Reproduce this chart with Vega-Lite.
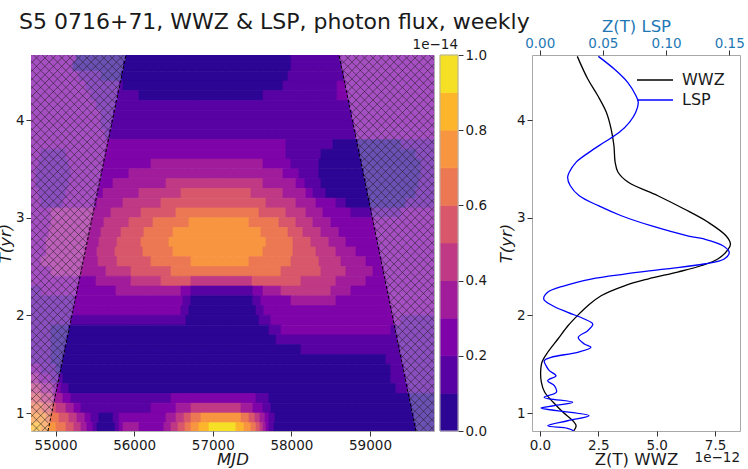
{
"$schema":"https://vega.github.io/schema/vega-lite/v6.json",
"background":"white",
"padding":{"left":-4,"top":10,"right":2,"bottom":0},
"autosize":{"type":"pad"},
"config":{"font":"DejaVu Sans","view":{"stroke":null},
"axis":{"labelFont":"DejaVu Sans","titleFont":"DejaVu Sans","labelFontSize":13.5,"titleFontSize":16.5,"titleFontWeight":"normal","labelColor":"#1a1a1a","titleColor":"#1a1a1a","tickColor":"#333333","tickSize":5,"tickWidth":1,"domain":false,"grid":false,"labelPadding":2,"titlePadding":3,"labelFlush":false},
"axisX":{"titlePadding":0},
"axisY":{"titlePadding":2}},
"datasets":{
"runs":[
{"t0":4.6,"t1":4.7,"a":54688,"b":55260,"z":2,"c":0},{"t0":4.6,"t1":4.7,"a":55260,"b":55892,"z":0,"c":0},{"t0":4.6,"t1":4.7,"a":55892,"b":57995,"z":0,"c":1},{"t0":4.6,"t1":4.7,"a":57995,"b":58609,"z":1,"c":1},{"t0":4.6,"t1":4.7,"a":58609,"b":59814,"z":2,"c":0},
{"t0":4.5,"t1":4.6,"a":54688,"b":55222,"z":2,"c":0},{"t0":4.5,"t1":4.6,"a":55222,"b":55866,"z":0,"c":0},{"t0":4.5,"t1":4.6,"a":55866,"b":57995,"z":0,"c":1},{"t0":4.5,"t1":4.6,"a":57995,"b":58634,"z":1,"c":1},{"t0":4.5,"t1":4.6,"a":58634,"b":59814,"z":2,"c":0},
{"t0":4.4,"t1":4.5,"a":54688,"b":55299,"z":2,"c":0},{"t0":4.4,"t1":4.5,"a":55299,"b":55578,"z":1,"c":0},{"t0":4.4,"t1":4.5,"a":55578,"b":55840,"z":0,"c":0},{"t0":4.4,"t1":4.5,"a":55840,"b":57957,"z":0,"c":1},{"t0":4.4,"t1":4.5,"a":57957,"b":58660,"z":1,"c":1},{"t0":4.4,"t1":4.5,"a":58660,"b":59814,"z":2,"c":0},
{"t0":4.3,"t1":4.4,"a":54688,"b":55388,"z":2,"c":0},{"t0":4.3,"t1":4.4,"a":55388,"b":55815,"z":1,"c":0},{"t0":4.3,"t1":4.4,"a":55815,"b":55858,"z":1,"c":1},{"t0":4.3,"t1":4.4,"a":55858,"b":57893,"z":0,"c":1},{"t0":4.3,"t1":4.4,"a":57893,"b":58580,"z":1,"c":1},{"t0":4.3,"t1":4.4,"a":58580,"b":58685,"z":2,"c":1},{"t0":4.3,"t1":4.4,"a":58685,"b":59814,"z":2,"c":0},
{"t0":4.2,"t1":4.3,"a":54688,"b":55451,"z":2,"c":0},{"t0":4.2,"t1":4.3,"a":55451,"b":55789,"z":1,"c":0},{"t0":4.2,"t1":4.3,"a":55789,"b":56061,"z":1,"c":1},{"t0":4.2,"t1":4.3,"a":56061,"b":57639,"z":0,"c":1},{"t0":4.2,"t1":4.3,"a":57639,"b":58580,"z":1,"c":1},{"t0":4.2,"t1":4.3,"a":58580,"b":58711,"z":2,"c":1},{"t0":4.2,"t1":4.3,"a":58711,"b":59814,"z":2,"c":0},
{"t0":4.1,"t1":4.2,"a":54688,"b":55515,"z":2,"c":0},{"t0":4.1,"t1":4.2,"a":55515,"b":55763,"z":1,"c":0},{"t0":4.1,"t1":4.2,"a":55763,"b":58736,"z":1,"c":1},{"t0":4.1,"t1":4.2,"a":58736,"b":59814,"z":2,"c":0},
{"t0":4.0,"t1":4.1,"a":54688,"b":55578,"z":2,"c":0},{"t0":4.0,"t1":4.1,"a":55578,"b":55737,"z":1,"c":0},{"t0":4.0,"t1":4.1,"a":55737,"b":58762,"z":1,"c":1},{"t0":4.0,"t1":4.1,"a":58762,"b":59814,"z":2,"c":0},
{"t0":3.9,"t1":4.0,"a":54688,"b":55578,"z":2,"c":0},{"t0":3.9,"t1":4.0,"a":55578,"b":55712,"z":1,"c":0},{"t0":3.9,"t1":4.0,"a":55712,"b":58787,"z":1,"c":1},{"t0":3.9,"t1":4.0,"a":58787,"b":59814,"z":2,"c":0},
{"t0":3.8,"t1":3.9,"a":54688,"b":55629,"z":2,"c":0},{"t0":3.8,"t1":3.9,"a":55629,"b":55686,"z":1,"c":0},{"t0":3.8,"t1":3.9,"a":55686,"b":58813,"z":1,"c":1},{"t0":3.8,"t1":3.9,"a":58813,"b":59814,"z":2,"c":0},
{"t0":3.7,"t1":3.8,"a":54688,"b":55660,"z":2,"c":0},{"t0":3.7,"t1":3.8,"a":55660,"b":57931,"z":2,"c":1},{"t0":3.7,"t1":3.8,"a":57931,"b":58529,"z":1,"c":1},{"t0":3.7,"t1":3.8,"a":58529,"b":58838,"z":0,"c":1},{"t0":3.7,"t1":3.8,"a":58838,"b":59394,"z":0,"c":0},{"t0":3.7,"t1":3.8,"a":59394,"b":59814,"z":1,"c":0},
{"t0":3.6,"t1":3.7,"a":54688,"b":54815,"z":2,"c":0},{"t0":3.6,"t1":3.7,"a":54815,"b":55133,"z":1,"c":0},{"t0":3.6,"t1":3.7,"a":55133,"b":55634,"z":2,"c":0},{"t0":3.6,"t1":3.7,"a":55634,"b":57931,"z":2,"c":1},{"t0":3.6,"t1":3.7,"a":57931,"b":58376,"z":1,"c":1},{"t0":3.6,"t1":3.7,"a":58376,"b":58863,"z":0,"c":1},{"t0":3.6,"t1":3.7,"a":58863,"b":59584,"z":0,"c":0},{"t0":3.6,"t1":3.7,"a":59584,"b":59814,"z":1,"c":0},
{"t0":3.5,"t1":3.6,"a":54688,"b":54790,"z":2,"c":0},{"t0":3.5,"t1":3.6,"a":54790,"b":55171,"z":1,"c":0},{"t0":3.5,"t1":3.6,"a":55171,"b":55609,"z":2,"c":0},{"t0":3.5,"t1":3.6,"a":55609,"b":56214,"z":2,"c":1},{"t0":3.5,"t1":3.6,"a":56214,"b":57639,"z":3,"c":1},{"t0":3.5,"t1":3.6,"a":57639,"b":57995,"z":2,"c":1},{"t0":3.5,"t1":3.6,"a":57995,"b":58351,"z":1,"c":1},{"t0":3.5,"t1":3.6,"a":58351,"b":58889,"z":0,"c":1},{"t0":3.5,"t1":3.6,"a":58889,"b":59648,"z":0,"c":0},{"t0":3.5,"t1":3.6,"a":59648,"b":59814,"z":1,"c":0},
{"t0":3.4,"t1":3.5,"a":54688,"b":54752,"z":2,"c":0},{"t0":3.4,"t1":3.5,"a":54752,"b":55197,"z":1,"c":0},{"t0":3.4,"t1":3.5,"a":55197,"b":55583,"z":2,"c":0},{"t0":3.4,"t1":3.5,"a":55583,"b":55934,"z":2,"c":1},{"t0":3.4,"t1":3.5,"a":55934,"b":57893,"z":3,"c":1},{"t0":3.4,"t1":3.5,"a":57893,"b":58096,"z":2,"c":1},{"t0":3.4,"t1":3.5,"a":58096,"b":58351,"z":1,"c":1},{"t0":3.4,"t1":3.5,"a":58351,"b":58914,"z":0,"c":1},{"t0":3.4,"t1":3.5,"a":58914,"b":59648,"z":0,"c":0},{"t0":3.4,"t1":3.5,"a":59648,"b":59814,"z":1,"c":0},
{"t0":3.3,"t1":3.4,"a":54688,"b":54752,"z":2,"c":0},{"t0":3.3,"t1":3.4,"a":54752,"b":55171,"z":1,"c":0},{"t0":3.3,"t1":3.4,"a":55171,"b":55557,"z":2,"c":0},{"t0":3.3,"t1":3.4,"a":55557,"b":55731,"z":2,"c":1},{"t0":3.3,"t1":3.4,"a":55731,"b":56405,"z":3,"c":1},{"t0":3.3,"t1":3.4,"a":56405,"b":57639,"z":4,"c":1},{"t0":3.3,"t1":3.4,"a":57639,"b":58058,"z":3,"c":1},{"t0":3.3,"t1":3.4,"a":58058,"b":58173,"z":2,"c":1},{"t0":3.3,"t1":3.4,"a":58173,"b":58376,"z":1,"c":1},{"t0":3.3,"t1":3.4,"a":58376,"b":58940,"z":0,"c":1},{"t0":3.3,"t1":3.4,"a":58940,"b":59623,"z":0,"c":0},{"t0":3.3,"t1":3.4,"a":59623,"b":59814,"z":1,"c":0},
{"t0":3.2,"t1":3.3,"a":54688,"b":54790,"z":2,"c":0},{"t0":3.2,"t1":3.3,"a":54790,"b":55133,"z":1,"c":0},{"t0":3.2,"t1":3.3,"a":55133,"b":55531,"z":2,"c":0},{"t0":3.2,"t1":3.3,"a":55531,"b":55604,"z":2,"c":1},{"t0":3.2,"t1":3.3,"a":55604,"b":56061,"z":3,"c":1},{"t0":3.2,"t1":3.3,"a":56061,"b":56596,"z":4,"c":1},{"t0":3.2,"t1":3.3,"a":56596,"b":57486,"z":5,"c":1},{"t0":3.2,"t1":3.3,"a":57486,"b":57893,"z":4,"c":1},{"t0":3.2,"t1":3.3,"a":57893,"b":58186,"z":3,"c":1},{"t0":3.2,"t1":3.3,"a":58186,"b":58274,"z":2,"c":1},{"t0":3.2,"t1":3.3,"a":58274,"b":58440,"z":1,"c":1},{"t0":3.2,"t1":3.3,"a":58440,"b":58965,"z":0,"c":1},{"t0":3.2,"t1":3.3,"a":58965,"b":59584,"z":0,"c":0},{"t0":3.2,"t1":3.3,"a":59584,"b":59814,"z":1,"c":0},
{"t0":3.1,"t1":3.2,"a":54688,"b":54815,"z":2,"c":0},{"t0":3.1,"t1":3.2,"a":54815,"b":55095,"z":1,"c":0},{"t0":3.1,"t1":3.2,"a":55095,"b":55505,"z":2,"c":0},{"t0":3.1,"t1":3.2,"a":55505,"b":55527,"z":2,"c":1},{"t0":3.1,"t1":3.2,"a":55527,"b":55858,"z":3,"c":1},{"t0":3.1,"t1":3.2,"a":55858,"b":56341,"z":4,"c":1},{"t0":3.1,"t1":3.2,"a":56341,"b":57677,"z":5,"c":1},{"t0":3.1,"t1":3.2,"a":57677,"b":58058,"z":4,"c":1},{"t0":3.1,"t1":3.2,"a":58058,"b":58313,"z":3,"c":1},{"t0":3.1,"t1":3.2,"a":58313,"b":58567,"z":2,"c":1},{"t0":3.1,"t1":3.2,"a":58567,"b":58694,"z":1,"c":1},{"t0":3.1,"t1":3.2,"a":58694,"b":58991,"z":0,"c":1},{"t0":3.1,"t1":3.2,"a":58991,"b":59457,"z":0,"c":0},{"t0":3.1,"t1":3.2,"a":59457,"b":59814,"z":1,"c":0},
{"t0":3.0,"t1":3.1,"a":54688,"b":54942,"z":2,"c":0},{"t0":3.0,"t1":3.1,"a":54942,"b":55480,"z":3,"c":0},{"t0":3.0,"t1":3.1,"a":55480,"b":55705,"z":3,"c":1},{"t0":3.0,"t1":3.1,"a":55705,"b":56087,"z":4,"c":1},{"t0":3.0,"t1":3.1,"a":56087,"b":56532,"z":5,"c":1},{"t0":3.0,"t1":3.1,"a":56532,"b":57588,"z":6,"c":1},{"t0":3.0,"t1":3.1,"a":57588,"b":57931,"z":5,"c":1},{"t0":3.0,"t1":3.1,"a":57931,"b":58186,"z":4,"c":1},{"t0":3.0,"t1":3.1,"a":58186,"b":58402,"z":3,"c":1},{"t0":3.0,"t1":3.1,"a":58402,"b":58758,"z":2,"c":1},{"t0":3.0,"t1":3.1,"a":58758,"b":59016,"z":1,"c":1},{"t0":3.0,"t1":3.1,"a":59016,"b":59394,"z":1,"c":0},{"t0":3.0,"t1":3.1,"a":59394,"b":59814,"z":2,"c":0},
{"t0":2.9,"t1":3.0,"a":54688,"b":54942,"z":2,"c":0},{"t0":2.9,"t1":3.0,"a":54942,"b":55454,"z":3,"c":0},{"t0":2.9,"t1":3.0,"a":55454,"b":55616,"z":3,"c":1},{"t0":2.9,"t1":3.0,"a":55616,"b":55934,"z":4,"c":1},{"t0":2.9,"t1":3.0,"a":55934,"b":56240,"z":5,"c":1},{"t0":2.9,"t1":3.0,"a":56240,"b":56697,"z":6,"c":1},{"t0":2.9,"t1":3.0,"a":56697,"b":57461,"z":7,"c":1},{"t0":2.9,"t1":3.0,"a":57461,"b":57842,"z":6,"c":1},{"t0":2.9,"t1":3.0,"a":57842,"b":58058,"z":5,"c":1},{"t0":2.9,"t1":3.0,"a":58058,"b":58274,"z":4,"c":1},{"t0":2.9,"t1":3.0,"a":58274,"b":58503,"z":3,"c":1},{"t0":2.9,"t1":3.0,"a":58503,"b":59041,"z":2,"c":1},{"t0":2.9,"t1":3.0,"a":59041,"b":59814,"z":2,"c":0},
{"t0":2.8,"t1":2.9,"a":54688,"b":54917,"z":2,"c":0},{"t0":2.8,"t1":2.9,"a":54917,"b":55428,"z":3,"c":0},{"t0":2.8,"t1":2.9,"a":55428,"b":55578,"z":3,"c":1},{"t0":2.8,"t1":2.9,"a":55578,"b":55833,"z":4,"c":1},{"t0":2.8,"t1":2.9,"a":55833,"b":56125,"z":5,"c":1},{"t0":2.8,"t1":2.9,"a":56125,"b":56494,"z":6,"c":1},{"t0":2.8,"t1":2.9,"a":56494,"b":57613,"z":7,"c":1},{"t0":2.8,"t1":2.9,"a":57613,"b":57957,"z":6,"c":1},{"t0":2.8,"t1":2.9,"a":57957,"b":58147,"z":5,"c":1},{"t0":2.8,"t1":2.9,"a":58147,"b":58376,"z":4,"c":1},{"t0":2.8,"t1":2.9,"a":58376,"b":58605,"z":3,"c":1},{"t0":2.8,"t1":2.9,"a":58605,"b":59067,"z":2,"c":1},{"t0":2.8,"t1":2.9,"a":59067,"b":59814,"z":2,"c":0},
{"t0":2.7,"t1":2.8,"a":54688,"b":54879,"z":2,"c":0},{"t0":2.7,"t1":2.8,"a":54879,"b":55402,"z":3,"c":0},{"t0":2.7,"t1":2.8,"a":55402,"b":55553,"z":3,"c":1},{"t0":2.7,"t1":2.8,"a":55553,"b":55782,"z":4,"c":1},{"t0":2.7,"t1":2.8,"a":55782,"b":56087,"z":5,"c":1},{"t0":2.7,"t1":2.8,"a":56087,"b":56443,"z":6,"c":1},{"t0":2.7,"t1":2.8,"a":56443,"b":57677,"z":7,"c":1},{"t0":2.7,"t1":2.8,"a":57677,"b":58020,"z":6,"c":1},{"t0":2.7,"t1":2.8,"a":58020,"b":58249,"z":5,"c":1},{"t0":2.7,"t1":2.8,"a":58249,"b":58478,"z":4,"c":1},{"t0":2.7,"t1":2.8,"a":58478,"b":58694,"z":3,"c":1},{"t0":2.7,"t1":2.8,"a":58694,"b":59092,"z":2,"c":1},{"t0":2.7,"t1":2.8,"a":59092,"b":59814,"z":2,"c":0},
{"t0":2.6,"t1":2.7,"a":54688,"b":54879,"z":2,"c":0},{"t0":2.6,"t1":2.7,"a":54879,"b":55377,"z":3,"c":0},{"t0":2.6,"t1":2.7,"a":55377,"b":55527,"z":3,"c":1},{"t0":2.6,"t1":2.7,"a":55527,"b":55756,"z":4,"c":1},{"t0":2.6,"t1":2.7,"a":55756,"b":56112,"z":5,"c":1},{"t0":2.6,"t1":2.7,"a":56112,"b":56494,"z":6,"c":1},{"t0":2.6,"t1":2.7,"a":56494,"b":57639,"z":7,"c":1},{"t0":2.6,"t1":2.7,"a":57639,"b":58020,"z":6,"c":1},{"t0":2.6,"t1":2.7,"a":58020,"b":58313,"z":5,"c":1},{"t0":2.6,"t1":2.7,"a":58313,"b":58567,"z":4,"c":1},{"t0":2.6,"t1":2.7,"a":58567,"b":58822,"z":3,"c":1},{"t0":2.6,"t1":2.7,"a":58822,"b":59118,"z":2,"c":1},{"t0":2.6,"t1":2.7,"a":59118,"b":59814,"z":2,"c":0},
{"t0":2.5,"t1":2.6,"a":54688,"b":54815,"z":2,"c":0},{"t0":2.5,"t1":2.6,"a":54815,"b":55351,"z":3,"c":0},{"t0":2.5,"t1":2.6,"a":55351,"b":55540,"z":3,"c":1},{"t0":2.5,"t1":2.6,"a":55540,"b":55782,"z":4,"c":1},{"t0":2.5,"t1":2.6,"a":55782,"b":56214,"z":5,"c":1},{"t0":2.5,"t1":2.6,"a":56214,"b":56723,"z":6,"c":1},{"t0":2.5,"t1":2.6,"a":56723,"b":57461,"z":7,"c":1},{"t0":2.5,"t1":2.6,"a":57461,"b":57995,"z":6,"c":1},{"t0":2.5,"t1":2.6,"a":57995,"b":58351,"z":5,"c":1},{"t0":2.5,"t1":2.6,"a":58351,"b":58631,"z":4,"c":1},{"t0":2.5,"t1":2.6,"a":58631,"b":58949,"z":3,"c":1},{"t0":2.5,"t1":2.6,"a":58949,"b":59143,"z":2,"c":1},{"t0":2.5,"t1":2.6,"a":59143,"b":59814,"z":2,"c":0},
{"t0":2.4,"t1":2.5,"a":54688,"b":54942,"z":2,"c":0},{"t0":2.4,"t1":2.5,"a":54942,"b":55325,"z":3,"c":0},{"t0":2.4,"t1":2.5,"a":55325,"b":55642,"z":3,"c":1},{"t0":2.4,"t1":2.5,"a":55642,"b":55960,"z":4,"c":1},{"t0":2.4,"t1":2.5,"a":55960,"b":56469,"z":5,"c":1},{"t0":2.4,"t1":2.5,"a":56469,"b":57868,"z":6,"c":1},{"t0":2.4,"t1":2.5,"a":57868,"b":58376,"z":5,"c":1},{"t0":2.4,"t1":2.5,"a":58376,"b":58694,"z":4,"c":1},{"t0":2.4,"t1":2.5,"a":58694,"b":59038,"z":3,"c":1},{"t0":2.4,"t1":2.5,"a":59038,"b":59169,"z":2,"c":1},{"t0":2.4,"t1":2.5,"a":59169,"b":59814,"z":2,"c":0},
{"t0":2.3,"t1":2.4,"a":54688,"b":55299,"z":2,"c":0},{"t0":2.3,"t1":2.4,"a":55299,"b":55515,"z":2,"c":1},{"t0":2.3,"t1":2.4,"a":55515,"b":55960,"z":3,"c":1},{"t0":2.3,"t1":2.4,"a":55960,"b":56341,"z":4,"c":1},{"t0":2.3,"t1":2.4,"a":56341,"b":56723,"z":5,"c":1},{"t0":2.3,"t1":2.4,"a":56723,"b":57500,"z":4,"c":1},{"t0":2.3,"t1":2.4,"a":57500,"b":58122,"z":5,"c":1},{"t0":2.3,"t1":2.4,"a":58122,"b":58567,"z":4,"c":1},{"t0":2.3,"t1":2.4,"a":58567,"b":58949,"z":3,"c":1},{"t0":2.3,"t1":2.4,"a":58949,"b":59194,"z":2,"c":1},{"t0":2.3,"t1":2.4,"a":59194,"b":59814,"z":2,"c":0},
{"t0":2.2,"t1":2.3,"a":54688,"b":54815,"z":1,"c":0},{"t0":2.2,"t1":2.3,"a":54815,"b":55273,"z":2,"c":0},{"t0":2.2,"t1":2.3,"a":55273,"b":55769,"z":2,"c":1},{"t0":2.2,"t1":2.3,"a":55769,"b":56596,"z":3,"c":1},{"t0":2.2,"t1":2.3,"a":56596,"b":56723,"z":2,"c":1},{"t0":2.2,"t1":2.3,"a":56723,"b":57511,"z":1,"c":1},{"t0":2.2,"t1":2.3,"a":57511,"b":57639,"z":2,"c":1},{"t0":2.2,"t1":2.3,"a":57639,"b":57868,"z":3,"c":1},{"t0":2.2,"t1":2.3,"a":57868,"b":58503,"z":4,"c":1},{"t0":2.2,"t1":2.3,"a":58503,"b":58758,"z":3,"c":1},{"t0":2.2,"t1":2.3,"a":58758,"b":59219,"z":2,"c":1},{"t0":2.2,"t1":2.3,"a":59219,"b":59814,"z":2,"c":0},
{"t0":2.1,"t1":2.2,"a":54688,"b":55248,"z":1,"c":0},{"t0":2.1,"t1":2.2,"a":55248,"b":56621,"z":2,"c":1},{"t0":2.1,"t1":2.2,"a":56621,"b":56723,"z":1,"c":1},{"t0":2.1,"t1":2.2,"a":56723,"b":57511,"z":0,"c":1},{"t0":2.1,"t1":2.2,"a":57511,"b":57613,"z":1,"c":1},{"t0":2.1,"t1":2.2,"a":57613,"b":57995,"z":2,"c":1},{"t0":2.1,"t1":2.2,"a":57995,"b":58567,"z":3,"c":1},{"t0":2.1,"t1":2.2,"a":58567,"b":59245,"z":2,"c":1},{"t0":2.1,"t1":2.2,"a":59245,"b":59814,"z":2,"c":0},
{"t0":2.0,"t1":2.1,"a":54688,"b":55222,"z":1,"c":0},{"t0":2.0,"t1":2.1,"a":55222,"b":56596,"z":2,"c":1},{"t0":2.0,"t1":2.1,"a":56596,"b":56697,"z":1,"c":1},{"t0":2.0,"t1":2.1,"a":56697,"b":57550,"z":0,"c":1},{"t0":2.0,"t1":2.1,"a":57550,"b":57651,"z":1,"c":1},{"t0":2.0,"t1":2.1,"a":57651,"b":59270,"z":2,"c":1},{"t0":2.0,"t1":2.1,"a":59270,"b":59814,"z":2,"c":0},
{"t0":1.9,"t1":2.0,"a":54688,"b":55196,"z":1,"c":0},{"t0":1.9,"t1":2.0,"a":55196,"b":56659,"z":1,"c":1},{"t0":1.9,"t1":2.0,"a":56659,"b":57588,"z":0,"c":1},{"t0":1.9,"t1":2.0,"a":57588,"b":57740,"z":1,"c":1},{"t0":1.9,"t1":2.0,"a":57740,"b":59296,"z":2,"c":1},{"t0":1.9,"t1":2.0,"a":59296,"b":59394,"z":2,"c":0},{"t0":1.9,"t1":2.0,"a":59394,"b":59814,"z":1,"c":0},
{"t0":1.8,"t1":1.9,"a":54688,"b":54942,"z":1,"c":0},{"t0":1.8,"t1":1.9,"a":54942,"b":55170,"z":0,"c":0},{"t0":1.8,"t1":1.9,"a":55170,"b":57715,"z":0,"c":1},{"t0":1.8,"t1":1.9,"a":57715,"b":57868,"z":1,"c":1},{"t0":1.8,"t1":1.9,"a":57868,"b":59266,"z":2,"c":1},{"t0":1.8,"t1":1.9,"a":59266,"b":59321,"z":1,"c":1},{"t0":1.8,"t1":1.9,"a":59321,"b":59814,"z":1,"c":0},
{"t0":1.7,"t1":1.8,"a":54688,"b":54942,"z":1,"c":0},{"t0":1.7,"t1":1.8,"a":54942,"b":55145,"z":0,"c":0},{"t0":1.7,"t1":1.8,"a":55145,"b":57804,"z":0,"c":1},{"t0":1.7,"t1":1.8,"a":57804,"b":59346,"z":1,"c":1},{"t0":1.7,"t1":1.8,"a":59346,"b":59814,"z":1,"c":0},
{"t0":1.6,"t1":1.7,"a":54688,"b":54942,"z":1,"c":0},{"t0":1.6,"t1":1.7,"a":54942,"b":55119,"z":0,"c":0},{"t0":1.6,"t1":1.7,"a":55119,"b":58122,"z":0,"c":1},{"t0":1.6,"t1":1.7,"a":58122,"b":59372,"z":1,"c":1},{"t0":1.6,"t1":1.7,"a":59372,"b":59814,"z":1,"c":0},
{"t0":1.5,"t1":1.6,"a":54688,"b":54942,"z":1,"c":0},{"t0":1.5,"t1":1.6,"a":54942,"b":55093,"z":0,"c":0},{"t0":1.5,"t1":1.6,"a":55093,"b":59203,"z":0,"c":1},{"t0":1.5,"t1":1.6,"a":59203,"b":59397,"z":1,"c":1},{"t0":1.5,"t1":1.6,"a":59397,"b":59814,"z":1,"c":0},
{"t0":1.4,"t1":1.5,"a":54688,"b":54815,"z":2,"c":0},{"t0":1.4,"t1":1.5,"a":54815,"b":55006,"z":1,"c":0},{"t0":1.4,"t1":1.5,"a":55006,"b":55067,"z":0,"c":0},{"t0":1.4,"t1":1.5,"a":55067,"b":59266,"z":0,"c":1},{"t0":1.4,"t1":1.5,"a":59266,"b":59423,"z":1,"c":1},{"t0":1.4,"t1":1.5,"a":59423,"b":59814,"z":1,"c":0},
{"t0":1.3,"t1":1.4,"a":54688,"b":54790,"z":3,"c":0},{"t0":1.3,"t1":1.4,"a":54790,"b":54942,"z":2,"c":0},{"t0":1.3,"t1":1.4,"a":54942,"b":55041,"z":1,"c":0},{"t0":1.3,"t1":1.4,"a":55041,"b":55095,"z":1,"c":1},{"t0":1.3,"t1":1.4,"a":55095,"b":59266,"z":0,"c":1},{"t0":1.3,"t1":1.4,"a":59266,"b":59448,"z":1,"c":1},{"t0":1.3,"t1":1.4,"a":59448,"b":59814,"z":1,"c":0},
{"t0":1.2,"t1":1.3,"a":54688,"b":54815,"z":4,"c":0},{"t0":1.2,"t1":1.3,"a":54815,"b":54968,"z":3,"c":0},{"t0":1.2,"t1":1.3,"a":54968,"b":55016,"z":2,"c":0},{"t0":1.2,"t1":1.3,"a":55016,"b":55070,"z":2,"c":1},{"t0":1.2,"t1":1.3,"a":55070,"b":55171,"z":1,"c":1},{"t0":1.2,"t1":1.3,"a":55171,"b":59330,"z":0,"c":1},{"t0":1.2,"t1":1.3,"a":59330,"b":59474,"z":1,"c":1},{"t0":1.2,"t1":1.3,"a":59474,"b":59814,"z":1,"c":0},
{"t0":1.1,"t1":1.2,"a":54688,"b":54815,"z":5,"c":0},{"t0":1.1,"t1":1.2,"a":54815,"b":54968,"z":4,"c":0},{"t0":1.1,"t1":1.2,"a":54968,"b":54990,"z":3,"c":0},{"t0":1.1,"t1":1.2,"a":54990,"b":55095,"z":3,"c":1},{"t0":1.1,"t1":1.2,"a":55095,"b":55197,"z":2,"c":1},{"t0":1.1,"t1":1.2,"a":55197,"b":56469,"z":1,"c":1},{"t0":1.1,"t1":1.2,"a":56469,"b":57550,"z":2,"c":1},{"t0":1.1,"t1":1.2,"a":57550,"b":57715,"z":1,"c":1},{"t0":1.1,"t1":1.2,"a":57715,"b":59499,"z":0,"c":1},{"t0":1.1,"t1":1.2,"a":59499,"b":59814,"z":0,"c":0},
{"t0":1.0,"t1":1.1,"a":54688,"b":54841,"z":6,"c":0},{"t0":1.0,"t1":1.1,"a":54841,"b":54964,"z":5,"c":0},{"t0":1.0,"t1":1.1,"a":54964,"b":55006,"z":5,"c":1},{"t0":1.0,"t1":1.1,"a":55006,"b":55133,"z":4,"c":1},{"t0":1.0,"t1":1.1,"a":55133,"b":55235,"z":3,"c":1},{"t0":1.0,"t1":1.1,"a":55235,"b":55324,"z":2,"c":1},{"t0":1.0,"t1":1.1,"a":55324,"b":56214,"z":1,"c":1},{"t0":1.0,"t1":1.1,"a":56214,"b":56532,"z":2,"c":1},{"t0":1.0,"t1":1.1,"a":56532,"b":56723,"z":3,"c":1},{"t0":1.0,"t1":1.1,"a":56723,"b":57359,"z":4,"c":1},{"t0":1.0,"t1":1.1,"a":57359,"b":57511,"z":3,"c":1},{"t0":1.0,"t1":1.1,"a":57511,"b":57639,"z":2,"c":1},{"t0":1.0,"t1":1.1,"a":57639,"b":57740,"z":1,"c":1},{"t0":1.0,"t1":1.1,"a":57740,"b":59524,"z":0,"c":1},{"t0":1.0,"t1":1.1,"a":59524,"b":59814,"z":0,"c":0},
{"t0":0.9,"t1":1.0,"a":54688,"b":54879,"z":7,"c":0},{"t0":0.9,"t1":1.0,"a":54879,"b":54938,"z":6,"c":0},{"t0":0.9,"t1":1.0,"a":54938,"b":55044,"z":6,"c":1},{"t0":0.9,"t1":1.0,"a":55044,"b":55171,"z":5,"c":1},{"t0":0.9,"t1":1.0,"a":55171,"b":55273,"z":4,"c":1},{"t0":0.9,"t1":1.0,"a":55273,"b":55375,"z":3,"c":1},{"t0":0.9,"t1":1.0,"a":55375,"b":55451,"z":2,"c":1},{"t0":0.9,"t1":1.0,"a":55451,"b":55553,"z":1,"c":1},{"t0":0.9,"t1":1.0,"a":55553,"b":55731,"z":0,"c":1},{"t0":0.9,"t1":1.0,"a":55731,"b":55807,"z":1,"c":1},{"t0":0.9,"t1":1.0,"a":55807,"b":56405,"z":2,"c":1},{"t0":0.9,"t1":1.0,"a":56405,"b":56532,"z":3,"c":1},{"t0":0.9,"t1":1.0,"a":56532,"b":56634,"z":4,"c":1},{"t0":0.9,"t1":1.0,"a":56634,"b":56723,"z":5,"c":1},{"t0":0.9,"t1":1.0,"a":56723,"b":56850,"z":6,"c":1},{"t0":0.9,"t1":1.0,"a":56850,"b":57359,"z":7,"c":1},{"t0":0.9,"t1":1.0,"a":57359,"b":57461,"z":6,"c":1},{"t0":0.9,"t1":1.0,"a":57461,"b":57537,"z":5,"c":1},{"t0":0.9,"t1":1.0,"a":57537,"b":57600,"z":4,"c":1},{"t0":0.9,"t1":1.0,"a":57600,"b":57664,"z":3,"c":1},{"t0":0.9,"t1":1.0,"a":57664,"b":57715,"z":2,"c":1},{"t0":0.9,"t1":1.0,"a":57715,"b":57791,"z":1,"c":1},{"t0":0.9,"t1":1.0,"a":57791,"b":59550,"z":0,"c":1},{"t0":0.9,"t1":1.0,"a":59550,"b":59814,"z":0,"c":0},
{"t0":0.8,"t1":0.9,"a":54688,"b":54815,"z":8,"c":0},{"t0":0.8,"t1":0.9,"a":54815,"b":54913,"z":7,"c":0},{"t0":0.8,"t1":0.9,"a":54913,"b":55006,"z":7,"c":1},{"t0":0.8,"t1":0.9,"a":55006,"b":55133,"z":6,"c":1},{"t0":0.8,"t1":0.9,"a":55133,"b":55235,"z":5,"c":1},{"t0":0.8,"t1":0.9,"a":55235,"b":55324,"z":4,"c":1},{"t0":0.8,"t1":0.9,"a":55324,"b":55400,"z":3,"c":1},{"t0":0.8,"t1":0.9,"a":55400,"b":55477,"z":2,"c":1},{"t0":0.8,"t1":0.9,"a":55477,"b":55527,"z":1,"c":1},{"t0":0.8,"t1":0.9,"a":55527,"b":55756,"z":0,"c":1},{"t0":0.8,"t1":0.9,"a":55756,"b":55807,"z":1,"c":1},{"t0":0.8,"t1":0.9,"a":55807,"b":55858,"z":2,"c":1},{"t0":0.8,"t1":0.9,"a":55858,"b":56061,"z":3,"c":1},{"t0":0.8,"t1":0.9,"a":56061,"b":56379,"z":2,"c":1},{"t0":0.8,"t1":0.9,"a":56379,"b":56469,"z":3,"c":1},{"t0":0.8,"t1":0.9,"a":56469,"b":56558,"z":4,"c":1},{"t0":0.8,"t1":0.9,"a":56558,"b":56647,"z":5,"c":1},{"t0":0.8,"t1":0.9,"a":56647,"b":56723,"z":6,"c":1},{"t0":0.8,"t1":0.9,"a":56723,"b":56825,"z":7,"c":1},{"t0":0.8,"t1":0.9,"a":56825,"b":56952,"z":8,"c":1},{"t0":0.8,"t1":0.9,"a":56952,"b":57294,"z":9,"c":1},{"t0":0.8,"t1":0.9,"a":57294,"b":57397,"z":8,"c":1},{"t0":0.8,"t1":0.9,"a":57397,"b":57486,"z":7,"c":1},{"t0":0.8,"t1":0.9,"a":57486,"b":57550,"z":6,"c":1},{"t0":0.8,"t1":0.9,"a":57550,"b":57600,"z":5,"c":1},{"t0":0.8,"t1":0.9,"a":57600,"b":57639,"z":4,"c":1},{"t0":0.8,"t1":0.9,"a":57639,"b":57677,"z":3,"c":1},{"t0":0.8,"t1":0.9,"a":57677,"b":57715,"z":2,"c":1},{"t0":0.8,"t1":0.9,"a":57715,"b":57778,"z":1,"c":1},{"t0":0.8,"t1":0.9,"a":57778,"b":59575,"z":0,"c":1},{"t0":0.8,"t1":0.9,"a":59575,"b":59814,"z":0,"c":0}
],
"hatch":[
{"p":49906,"q":54688},{"p":50013,"q":54795},{"p":50120,"q":54902},{"p":50227,"q":55009},{"p":50334,"q":55116},{"p":50441,"q":55223},{"p":50548,"q":55330},{"p":50655,"q":55437},{"p":50762,"q":55544},{"p":50869,"q":55651},
{"p":50976,"q":55758},{"p":51083,"q":55865},{"p":51190,"q":55972},{"p":51297,"q":56079},{"p":51404,"q":56186},{"p":51511,"q":56293},{"p":51618,"q":56400},{"p":51725,"q":56507},{"p":51832,"q":56614},{"p":51939,"q":56721},
{"p":52046,"q":56828},{"p":52153,"q":56935},{"p":52260,"q":57042},{"p":52367,"q":57149},{"p":52474,"q":57256},{"p":52581,"q":57363},{"p":52688,"q":57470},{"p":52795,"q":57577},{"p":52902,"q":57684},{"p":53009,"q":57791},
{"p":53116,"q":57898},{"p":53223,"q":58005},{"p":53330,"q":58112},{"p":53437,"q":58219},{"p":53544,"q":58326},{"p":53651,"q":58433},{"p":53758,"q":58540},{"p":53865,"q":58647},{"p":53972,"q":58754},{"p":54079,"q":58861},
{"p":54186,"q":58968},{"p":54293,"q":59075},{"p":54400,"q":59182},{"p":54507,"q":59289},{"p":54614,"q":59396},{"p":54721,"q":59503},{"p":54828,"q":59610},{"p":54935,"q":59717},{"p":55042,"q":59824},{"p":55149,"q":59931},
{"p":55256,"q":60038},{"p":55363,"q":60145},{"p":55470,"q":60252},{"p":55577,"q":60359},{"p":55684,"q":60466},{"p":55791,"q":60573},{"p":55898,"q":60680},{"p":56005,"q":60787},{"p":56112,"q":60894},{"p":56219,"q":61001},
{"p":56326,"q":61108},{"p":56433,"q":61215},{"p":56540,"q":61322},{"p":56647,"q":61429},{"p":56754,"q":61536},{"p":56861,"q":61643},{"p":56968,"q":61750},{"p":57075,"q":61857},{"p":57182,"q":61964},{"p":57289,"q":62071},
{"p":57396,"q":62178},{"p":57503,"q":62285},{"p":57610,"q":62392},{"p":57717,"q":62499},{"p":57824,"q":62606},{"p":57931,"q":62713},{"p":58038,"q":62820},{"p":58145,"q":62927},{"p":58252,"q":63034},{"p":58359,"q":63141},
{"p":58466,"q":63248},{"p":58573,"q":63355},{"p":58680,"q":63462},{"p":58787,"q":63569},{"p":58894,"q":63676},{"p":59001,"q":63783},{"p":59108,"q":63890},{"p":59215,"q":63997},{"p":59322,"q":64104},{"p":59429,"q":64211},
{"p":59536,"q":64318},{"p":59643,"q":64425},{"p":59750,"q":64532}
],
"wwz":[
{"t":4.652,"z":1.60},{"t":4.42,"z":2.05},{"t":4.249,"z":2.48},{"t":4.082,"z":2.84},{"t":3.908,"z":3.05},{"t":3.737,"z":3.17},{"t":3.57,"z":3.22},{"t":3.468,"z":3.34},{"t":3.365,"z":3.77},{"t":3.225,"z":5.05},{"t":3.089,"z":6.18},{"t":2.956,"z":7.19},{"t":2.815,"z":7.97},{"t":2.73,"z":8.16},{"t":2.679,"z":8.07},{"t":2.577,"z":7.62},{"t":2.508,"z":6.9},{"t":2.444,"z":5.9},{"t":2.372,"z":4.62},{"t":2.303,"z":3.62},{"t":2.201,"z":2.62},{"t":2.099,"z":2.05},{"t":1.996,"z":1.6},{"t":1.894,"z":1.2},{"t":1.758,"z":0.77},{"t":1.625,"z":0.34},{"t":1.523,"z":0.09},{"t":1.42,"z":0.03},{"t":1.317,"z":0.06},{"t":1.215,"z":0.2},{"t":1.113,"z":0.56},{"t":1.01,"z":0.98},{"t":0.921,"z":1.41},{"t":0.869,"z":1.55},{"t":0.818,"z":1.45}
],
"lsp":[
{"t":4.652,"p":0.0464},{"t":4.522,"p":0.059},{"t":4.386,"p":0.0696},{"t":4.249,"p":0.0762},{"t":4.181,"p":0.078},{"t":4.079,"p":0.076},{"t":3.976,"p":0.071},{"t":3.874,"p":0.063},{"t":3.772,"p":0.051},{"t":3.669,"p":0.039},{"t":3.567,"p":0.0287},{"t":3.465,"p":0.0234},{"t":3.413,"p":0.0221},{"t":3.327,"p":0.0242},{"t":3.225,"p":0.0313},{"t":3.123,"p":0.0464},{"t":3.02,"p":0.0646},{"t":2.918,"p":0.088},{"t":2.815,"p":0.117},{"t":2.782,"p":0.13},{"t":2.713,"p":0.145},{"t":2.645,"p":0.15},{"t":2.577,"p":0.146},{"t":2.526,"p":0.13},{"t":2.474,"p":0.0986},{"t":2.423,"p":0.067},{"t":2.372,"p":0.0406},{"t":2.303,"p":0.0195},{"t":2.236,"p":0.0063},{"t":2.167,"p":0.0032},{"t":2.099,"p":0.0103},{"t":2.031,"p":0.0222},{"t":1.963,"p":0.0353},{"t":1.911,"p":0.042},{"t":1.843,"p":0.038},{"t":1.775,"p":0.0305},{"t":1.707,"p":0.0353},{"t":1.673,"p":0.0406},{"t":1.622,"p":0.03},{"t":1.57,"p":0.0089},{"t":1.536,"p":0.0036},{"t":1.485,"p":0.005},{"t":1.434,"p":0.0076},{"t":1.382,"p":0.0129},{"t":1.331,"p":0.0063},{"t":1.28,"p":0.0116},{"t":1.212,"p":0.0132},{"t":1.161,"p":0.0036},{"t":1.11,"p":0.0261},{"t":1.075,"p":0.0116},{"t":1.051,"p":0.001},{"t":1.024,"p":0.0132},{"t":0.972,"p":0.039},{"t":0.921,"p":0.022},{"t":0.869,"p":0.0063},{"t":0.843,"p":0.022},{"t":0.818,"p":0.027}
]
},
"bounds":"flush",
"spacing":6,
"resolve":{"scale":{"fill":"independent","stroke":"independent"},"legend":{"fill":"independent","stroke":"independent"}},
"hconcat":[
{"width":403,"height":376,
"view":{"stroke":"#b0b0b0"},
"title":{"text":"S5 0716+71, WWZ & LSP, photon flux, weekly","anchor":"start","frame":"group","fontSize":22,"fontWeight":"normal","font":"DejaVu Sans","color":"#1a1a1a","baseline":"alphabetic","offset":4,"dx":-12},
"layer":[
{"data":{"name":"runs"},"transform":[{"filter":"datum.c == 0"}],"mark":{"type":"rect","clip":true,"strokeWidth":0.7},
"encoding":{
"x":{"field":"a","type":"quantitative","title":"MJD","scale":{"domain":[54688,59814],"nice":false,"zero":false},"axis":{"values":[55000,56000,57000,58000,59000],"format":"d","titleFontStyle":"italic"}},
"x2":{"field":"b"},
"y":{"field":"t0","type":"quantitative","title":"T(yr)","scale":{"domain":[0.816,4.666],"nice":false,"zero":false},"axis":{"values":[1,2,3,4],"format":"d","titleFontStyle":"italic"}},
"y2":{"field":"t1"},
"fill":{"field":"z","type":"ordinal","scale":{"domain":[0,1,2,3,4,5,6,7,8,9],"range":["#2c0594","#5802a4","#7e03a8","#a11c9b","#bf3984","#d8576b","#ec7853","#f89540","#fdb62c","#f5e026"]},"legend":null},
"stroke":{"field":"z","type":"ordinal","scale":{"domain":[0,1,2,3,4,5,6,7,8,9],"range":["#2c0594","#5802a4","#7e03a8","#a11c9b","#bf3984","#d8576b","#ec7853","#f89540","#fdb62c","#f5e026"]},"legend":null}}},
{"data":{"values":[{}]},"mark":{"type":"rect","color":"white","opacity":0.3},
"encoding":{"x":{"datum":54688,"type":"quantitative"},"x2":{"datum":59814},"y":{"datum":0.816,"type":"quantitative"},"y2":{"datum":4.666}}},
{"data":{"name":"hatch"},"mark":{"type":"rule","clip":true,"color":"#1a1a1a","strokeWidth":0.7,"opacity":0.75},
"encoding":{"x":{"field":"p","type":"quantitative","title":"MJD"},"x2":{"field":"q"},"y":{"datum":0.816,"type":"quantitative"},"y2":{"datum":4.666}}},
{"data":{"name":"hatch"},"mark":{"type":"rule","clip":true,"color":"#1a1a1a","strokeWidth":0.7,"opacity":0.75},
"encoding":{"x":{"field":"q","type":"quantitative","title":"MJD"},"x2":{"field":"p"},"y":{"datum":0.816,"type":"quantitative"},"y2":{"datum":4.666}}},
{"data":{"name":"runs"},"transform":[{"filter":"datum.c == 1"}],"mark":{"type":"rect","clip":true,"strokeWidth":0.7},
"encoding":{
"x":{"field":"a","type":"quantitative","title":"MJD"},
"x2":{"field":"b"},
"y":{"field":"t0","type":"quantitative","title":"T(yr)"},
"y2":{"field":"t1"},
"fill":{"field":"z","type":"ordinal","legend":null},
"stroke":{"field":"z","type":"ordinal","legend":null}}},
{"data":{"values":[{"a":54904,"b":55896},{"a":59584,"b":58605}]},"mark":{"type":"rule","color":"black","strokeWidth":1,"strokeDash":[3,2]},
"encoding":{"x":{"field":"a","type":"quantitative","title":"MJD"},"x2":{"field":"b"},"y":{"datum":0.816,"type":"quantitative"},"y2":{"datum":4.666}}}
]},
{"width":86,"height":376,
"layer":[
{"data":{"values":[{"lo":0,"hi":0.1,"z":0},{"lo":0.1,"hi":0.2,"z":1},{"lo":0.2,"hi":0.3,"z":2},{"lo":0.3,"hi":0.4,"z":3},{"lo":0.4,"hi":0.5,"z":4},{"lo":0.5,"hi":0.6,"z":5},{"lo":0.6,"hi":0.7,"z":6},{"lo":0.7,"hi":0.8,"z":7},{"lo":0.8,"hi":0.9,"z":8},{"lo":0.9,"hi":1.0,"z":9}]},
"mark":{"type":"rect","strokeWidth":0.7},
"encoding":{
"x":{"datum":0,"type":"quantitative","scale":{"domain":[0,86],"nice":false,"zero":false},"axis":null},
"x2":{"datum":18},
"y":{"field":"lo","type":"quantitative","title":null,"scale":{"domain":[0,1],"nice":false},"axis":{"orient":"right","offset":-68,"values":[0,0.2,0.4,0.6,0.8,1],"format":".1f"}},
"y2":{"field":"hi"},
"fill":{"field":"z","type":"ordinal","scale":{"domain":[0,1,2,3,4,5,6,7,8,9],"range":["#2c0594","#5802a4","#7e03a8","#a11c9b","#bf3984","#d8576b","#ec7853","#f89540","#fdb62c","#f5e026"]},"legend":null},
"stroke":{"field":"z","type":"ordinal","scale":{"domain":[0,1,2,3,4,5,6,7,8,9],"range":["#2c0594","#5802a4","#7e03a8","#a11c9b","#bf3984","#d8576b","#ec7853","#f89540","#fdb62c","#f5e026"]},"legend":null}}},
{"data":{"values":[{}]},"mark":{"type":"rect","filled":false,"stroke":"#b0b0b0","strokeWidth":1},
"encoding":{"x":{"datum":0,"type":"quantitative"},"x2":{"datum":18},"y":{"datum":0,"type":"quantitative"},"y2":{"datum":1}}},
{"data":{"values":[{"s":"1e−14"}]},"mark":{"type":"text","align":"right","baseline":"bottom","dy":-3,"fontSize":13.5,"font":"DejaVu Sans","color":"#1a1a1a"},
"encoding":{"x":{"datum":18,"type":"quantitative"},"y":{"datum":1,"type":"quantitative"},"text":{"field":"s"}}}
]},
{"width":208,"height":376,
"view":{"stroke":"#a8a8a8"},
"resolve":{"scale":{"x":"independent"}},
"layer":[
{"layer":[
{"data":{"name":"wwz"},"mark":{"type":"line","interpolate":"catmull-rom","strokeWidth":1.3,"clip":true},
"encoding":{
"x":{"field":"z","type":"quantitative","title":"Z(T) WWZ","scale":{"domain":[-0.34,8.57],"nice":false,"zero":false},"axis":{"orient":"bottom","values":[0,2.5,5,7.5],"format":".1f"}},
"y":{"field":"t","type":"quantitative","title":"T(yr)","scale":{"domain":[0.816,4.666],"nice":false,"zero":false},"axis":{"values":[1,2,3,4],"format":"d","titleFontStyle":"italic"}},
"order":{"field":"t","type":"quantitative"},
"stroke":{"datum":"WWZ","type":"nominal","scale":{"domain":["WWZ","LSP"],"range":["black","blue"]},
"legend":{"title":null,"orient":"none","legendX":113,"legendY":15,"symbolType":"M-2,0H2","symbolSize":324,"symbolStrokeWidth":1.5,"labelFontSize":16,"labelFont":"DejaVu Sans","labelColor":"#1a1a1a","labelOffset":17,"rowPadding":2,"padding":0}}}},
{"data":{"values":[{"s":"1e−12"}]},"mark":{"type":"text","align":"right","baseline":"alphabetic","fontSize":13.5,"font":"DejaVu Sans","color":"#1a1a1a"},
"encoding":{"x":{"datum":8.57,"type":"quantitative"},"y":{"datum":0.5,"type":"quantitative"},"text":{"field":"s"}}}
]},
{"data":{"name":"lsp"},"mark":{"type":"line","interpolate":"catmull-rom","strokeWidth":1.3,"clip":true},
"encoding":{
"x":{"field":"p","type":"quantitative","title":"Z(T) LSP","scale":{"domain":[-0.0061,0.1585],"nice":false,"zero":false},"axis":{"orient":"top","values":[0,0.05,0.1,0.15],"format":".2f","labelColor":"#1f77b4","titleColor":"#1f77b4","labelPadding":0,"titlePadding":2}},
"y":{"field":"t","type":"quantitative","title":"T(yr)"},
"order":{"field":"t","type":"quantitative"},
"stroke":{"datum":"LSP","type":"nominal"}}}
]}
]
}
